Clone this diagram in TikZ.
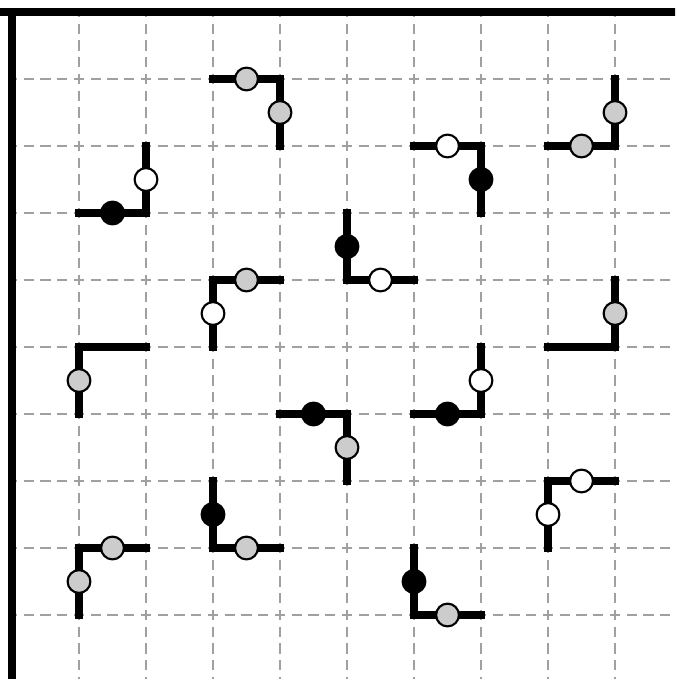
\documentclass[tikz,border=0pt]{standalone}
\usetikzlibrary{calc}
\definecolor{dotgray}{HTML}{CCCCCC}
\definecolor{gridgray}{HTML}{A0A0A0}
\tikzset{
  gridline/.style={draw=gridgray, line width=0.8pt, dash pattern=on 0.15cm off 0.1cm, dash phase=0.075cm},
  frameline/.style={draw=black, line width=3.2pt, line join=miter},
  elbow/.style={draw=black, line width=3pt, line cap=rect, line join=miter},
  dotbase/.style={circle, draw=black, line width=0.9pt, minimum size=0.34cm, inner sep=0pt},
  gdot/.style={dotbase, fill=dotgray},
  wdot/.style={dotbase, fill=white},
  bdot/.style={dotbase, fill=black},
}
\begin{document}
\begin{tikzpicture}
\useasboundingbox (-0.1791,0.1791) rectangle (9.8955,-9.9552);
\clip (-0.1791,0.1791) rectangle (9.8955,-9.9552);
% grid coordinates
\foreach \i in {0,...,10} {
  \foreach \j in {0,...,10} {
    \coordinate (g-\i-\j) at (\i,-\j);
  }
}
% dashed grid
\foreach \k in {1,...,9} {
  \draw[gridline] (g-\k-0) -- (g-\k-10);
  \draw[gridline] (g-0-\k) -- (g-10-\k);
}
% frame
\draw[frameline] (g-0-10) -- (g-0-0) -- (g-10-0);
\draw[frameline] (g-0-0) -- ++(-0.2,0);
% elbows
\draw[elbow] (g-3-1) -- (g-4-1) -- (g-4-2);
\node[gdot] (d1a) at ($(g-3-1)!0.5!(g-4-1)$) {};
\node[gdot] (d1b) at ($(g-4-1)!0.5!(g-4-2)$) {};

\draw[elbow] (g-2-2) -- (g-2-3) -- (g-1-3);
\node[wdot] (d2a) at ($(g-2-2)!0.5!(g-2-3)$) {};
\node[bdot] (d2b) at ($(g-2-3)!0.5!(g-1-3)$) {};

\draw[elbow] (g-6-2) -- (g-7-2) -- (g-7-3);
\node[wdot] (d3a) at ($(g-6-2)!0.5!(g-7-2)$) {};
\node[bdot] (d3b) at ($(g-7-2)!0.5!(g-7-3)$) {};

\draw[elbow] (g-9-1) -- (g-9-2) -- (g-8-2);
\node[gdot] (d4a) at ($(g-9-1)!0.5!(g-9-2)$) {};
\node[gdot] (d4b) at ($(g-9-2)!0.5!(g-8-2)$) {};

\draw[elbow] (g-5-3) -- (g-5-4) -- (g-6-4);
\node[bdot] (d5a) at ($(g-5-3)!0.5!(g-5-4)$) {};
\node[wdot] (d5b) at ($(g-5-4)!0.5!(g-6-4)$) {};

\draw[elbow] (g-4-4) -- (g-3-4) -- (g-3-5);
\node[gdot] (d6a) at ($(g-4-4)!0.5!(g-3-4)$) {};
\node[wdot] (d6b) at ($(g-3-4)!0.5!(g-3-5)$) {};

\draw[elbow] (g-9-4) -- (g-9-5) -- (g-8-5);
\node[gdot] (d7a) at ($(g-9-4)!0.5!(g-9-5)$) {};

\draw[elbow] (g-2-5) -- (g-1-5) -- (g-1-6);
\node[gdot] (d8a) at ($(g-1-5)!0.5!(g-1-6)$) {};

\draw[elbow] (g-4-6) -- (g-5-6) -- (g-5-7);
\node[bdot] (d9a) at ($(g-4-6)!0.5!(g-5-6)$) {};
\node[gdot] (d9b) at ($(g-5-6)!0.5!(g-5-7)$) {};

\draw[elbow] (g-7-5) -- (g-7-6) -- (g-6-6);
\node[wdot] (d10a) at ($(g-7-5)!0.5!(g-7-6)$) {};
\node[bdot] (d10b) at ($(g-7-6)!0.5!(g-6-6)$) {};

\draw[elbow] (g-9-7) -- (g-8-7) -- (g-8-8);
\node[wdot] (d11a) at ($(g-9-7)!0.5!(g-8-7)$) {};
\node[wdot] (d11b) at ($(g-8-7)!0.5!(g-8-8)$) {};

\draw[elbow] (g-3-7) -- (g-3-8) -- (g-4-8);
\node[bdot] (d12a) at ($(g-3-7)!0.5!(g-3-8)$) {};
\node[gdot] (d12b) at ($(g-3-8)!0.5!(g-4-8)$) {};

\draw[elbow] (g-2-8) -- (g-1-8) -- (g-1-9);
\node[gdot] (d13a) at ($(g-2-8)!0.5!(g-1-8)$) {};
\node[gdot] (d13b) at ($(g-1-8)!0.5!(g-1-9)$) {};

\draw[elbow] (g-6-8) -- (g-6-9) -- (g-7-9);
\node[bdot] (d14a) at ($(g-6-8)!0.5!(g-6-9)$) {};
\node[gdot] (d14b) at ($(g-6-9)!0.5!(g-7-9)$) {};
\end{tikzpicture}
\end{document}
